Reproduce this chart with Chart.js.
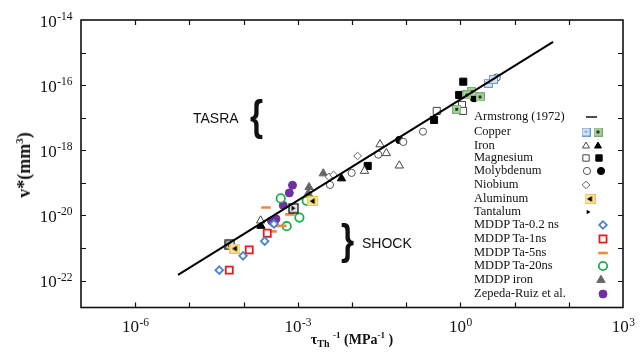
<!DOCTYPE html>
<html><head><meta charset="utf-8">
<script src="https://cdn.jsdelivr.net/npm/chart.js@4.4.1/dist/chart.umd.min.js"></script>
<style>
html,body{margin:0;padding:0;background:#fff;}
#wrap{position:relative;width:644px;height:352px;overflow:hidden;background:#fff}
canvas{position:absolute;left:0;top:0}
.lg{position:absolute;left:474px;font-family:'Liberation Serif','Times New Roman',serif;font-size:12.5px;line-height:14px;color:#111;white-space:nowrap}
.ann{position:absolute;font-family:'Liberation Sans',Arial,sans-serif;color:#111;white-space:nowrap}
.ttl{position:absolute;font-family:'Liberation Serif','Times New Roman',serif;font-weight:bold;color:#111;white-space:nowrap}
</style></head><body>
<div id="wrap">
<canvas id="c" width="644" height="352"></canvas>
<div class="ttl" id="xt" style="left:0;width:704px;text-align:center;top:330px;font-size:14px">τ<sub style="font-size:10px">Th</sub> <sup style="font-size:9px">-1</sup> (MPa<sup style="font-size:9px">-1</sup> )</div>
<div class="ttl" id="yt" style="left:24px;top:165px;font-size:18px;transform:translate(-50%,-50%) rotate(-90deg);">v*(mm<sup style="font-size:11px">3</sup>)</div>
<div class="ann" style="left:193px;top:110px;font-size:14px">TASRA</div>
<div class="ann" style="left:250px;top:92px;font-size:42px;line-height:48px;font-weight:bold;transform:scaleX(0.8);transform-origin:left">{</div>
<div class="ann" style="left:362px;top:235px;font-size:14px">SHOCK</div>
<div class="ann" style="left:341px;top:216px;font-size:42px;line-height:48px;font-weight:bold;transform:scaleX(0.8);transform-origin:left">}</div>
<div id="legend"></div>
</div>
<script>
// ---------- DATA ----------
const xTickVals = [1e-6, 1e-3, 1, 1e3];
const xTickExps = ['-6', '-3', '0', '3'];
const yTickVals = [1e-22, 1e-20, 1e-18, 1e-16, 1e-14];
const yTickExps = ['-22', '-20', '-18', '-16', '-14'];

const armstrongX = [6.17e-6, 51.3];
const armstrongY = [1.51e-22, 2.14e-15];

const copperOpenX = [3.30, 4.08];
const copperOpenY = [1.14e-16, 1.50e-16];
const copperFillX = [0.855, 1.62, 2.30, 1.32];
const copperFillY = [1.82e-17, 6.32e-17, 4.35e-17, 5.0e-17];

const ironOpenX = [2.06e-4, 1.70e-2, 3.29e-2, 4.30e-2, 7.46e-2];
const ironOpenY = [6.97e-21, 2.33e-19, 1.52e-18, 8.15e-19, 3.40e-19];
const ironFillX = [2.09e-4, 6.40e-3];
const ironFillY = [4.80e-21, 1.37e-19];

const magOpenX = [0.366, 1.07, 1.12];
const magOpenY = [1.62e-17, 2.47e-17, 1.62e-17];
const magFillX = [1.13, 0.95, 0.326, 1.95e-2];
const magFillY = [1.28e-16, 5.00e-17, 8.57e-18, 3.32e-19];

const molyOpenX = [3.93e-3, 9.87e-3, 3.05e-2, 8.83e-2, 0.204, 4.68];
const molyOpenY = [8.69e-20, 2.03e-19, 7.38e-19, 1.81e-18, 3.75e-18, 1.72e-16];
const molyFillX = [7.43e-2, 1.78];
const molyFillY = [2.08e-18, 3.96e-17];

const niobX = [3.77e-3, 4.56e-3, 1.27e-2];
const niobY = [1.53e-19, 1.76e-19, 6.73e-19];

const aluX = [1.88e-3, 6.93e-5];
const aluY = [2.75e-20, 9.66e-22];

const tantX = [5.61e-5, 8.34e-4];
const tantY = [1.25e-21, 1.67e-20];

const ta02X = [3.56e-5, 9.75e-5, 2.45e-4, 3.64e-4];
const ta02Y = [2.10e-22, 5.77e-22, 1.63e-21, 5.52e-21];

const ta1X = [5.44e-5, 1.27e-4, 2.73e-4];
const ta1Y = [2.10e-22, 8.81e-22, 2.86e-21];

const ta5X = [2.59e-4, 7.18e-4, 5.05e-4, 3.34e-4];
const ta5Y = [1.75e-20, 1.08e-20, 4.80e-21, 3.25e-21];

const ta20X = [4.84e-4, 1.07e-3, 6.24e-4, 1.46e-3];
const ta20Y = [3.35e-20, 8.63e-21, 4.70e-21, 2.81e-20];

const mddpIronX = [1.61e-3, 1.56e-3, 2.95e-3, 1.50e-3];
const mddpIronY = [7.38e-20, 4.76e-20, 1.95e-19, 2.71e-20];

const zepX = [7.98e-4, 6.97e-4, 5.40e-4, 3.96e-4, 3.27e-4, 3.64e-4];
const zepY = [8.50e-20, 4.93e-20, 2.04e-20, 7.87e-21, 6.83e-21, 5.93e-21];

const legendLabels = ['Armstrong (1972)', 'Copper', 'Iron', 'Magnesium', 'Molybdenum', 'Niobium', 'Aluminum', 'Tantalum',
  'MDDP Ta-0.2 ns', 'MDDP Ta-1ns', 'MDDP Ta-5ns', 'MDDP Ta-20ns', 'MDDP iron', 'Zepeda-Ruiz et al.'];

// ---------- LAYOUT / STYLE ----------
const legendRowY = [117, 132, 146, 158, 171, 185, 199, 212, 225, 239, 253, 266, 280, 294];
const zip = (xs, ys) => xs.map((x, i) => ({x: x, y: ys[i]}));

function mk(w, h, draw) { const c = document.createElement('canvas'); c.width = w; c.height = h; draw(c.getContext('2d')); return c; }
const alMarker = mk(11, 10, g => {
  g.fillStyle = '#fbe3a0'; g.strokeStyle = '#eec35a'; g.lineWidth = 1;
  g.fillRect(0.5, 0.5, 10, 9); g.strokeRect(0.5, 0.5, 10, 9);
  g.fillStyle = '#000'; g.beginPath(); g.moveTo(2.5, 5); g.lineTo(7.5, 2); g.lineTo(7.5, 8); g.closePath(); g.fill();
});
const taBoxMarker = mk(11, 11, g => {
  g.fillStyle = '#e6e6e6'; g.fillRect(1, 1, 9, 9);
  g.strokeStyle = '#111'; g.lineWidth = 1.3; g.strokeRect(1, 1, 9, 9);
  g.fillStyle = '#000'; g.beginPath(); g.moveTo(7.5, 5.5); g.lineTo(3.5, 3); g.lineTo(3.5, 8); g.closePath(); g.fill();
});
const cuOpenMarker = mk(9, 9, g => {
  g.fillStyle = '#d3e0f1'; g.fillRect(0.5, 0.5, 8, 8);
  g.strokeStyle = '#6f9bd1'; g.lineWidth = 1; g.strokeRect(0.5, 0.5, 8, 8);
  g.fillStyle = '#6f9bd1'; g.fillRect(3, 3.5, 3, 1.5);
});
const cuFillMarker = mk(9, 9, g => {
  g.fillStyle = '#a9d59e'; g.fillRect(0.5, 0.5, 8, 8);
  g.strokeStyle = '#7fae74'; g.lineWidth = 1; g.strokeRect(0.5, 0.5, 8, 8);
  g.fillStyle = '#233a22'; g.fillRect(3, 3, 3, 3);
});

const S = {
  cuO: {pointStyle: cuOpenMarker, radius: 4},
  cuF: {pointStyle: cuFillMarker, radius: 4},
  feO: {pointStyle: 'triangle', radius: 4.8, bg: '#fff', bc: '#444', bw: 1},
  feF: {pointStyle: 'triangle', radius: 4.8, bg: '#000', bc: '#000', bw: 1},
  mgO: {pointStyle: 'rect', radius: 5, bg: '#fff', bc: '#444', bw: 1},
  mgF: {pointStyle: 'rect', radius: 5, bg: '#000', bc: '#000', bw: 1},
  moO: {pointStyle: 'circle', radius: 3.6, bg: '#fff', bc: '#555', bw: 1},
  moF: {pointStyle: 'circle', radius: 3.6, bg: '#000', bc: '#000', bw: 1},
  nb: {pointStyle: 'rectRot', radius: 3.8, bg: '#fff', bc: '#666', bw: 1},
  al: {pointStyle: alMarker, radius: 5},
  ta: {pointStyle: taBoxMarker, radius: 5},
  ta02: {pointStyle: 'rectRot', radius: 3.8, bg: '#fff', bc: '#4a86c8', bw: 1.8},
  ta1: {pointStyle: 'rect', radius: 5, bg: '#fff', bc: '#e11d1d', bw: 1.8},
  ta5: {pointStyle: 'line', radius: 4.8, bg: '#ef8a3c', bc: '#ef8a3c', bw: 2.6},
  ta20: {pointStyle: 'circle', radius: 4.2, bg: '#fff', bc: '#1daf4c', bw: 1.8},
  mfe: {pointStyle: 'triangle', radius: 4.8, bg: '#666', bc: '#666', bw: 1},
  zep: {pointStyle: 'circle', radius: 4, bg: '#7030a0', bc: '#7030a0', bw: 1}
};
function ds(label, xs, ys, s) {
  return {label: label, data: zip(xs, ys), showLine: false, pointStyle: s.pointStyle, pointRadius: s.radius,
    pointHoverRadius: s.radius, pointBackgroundColor: s.bg || '#000', pointBorderColor: s.bc || '#000', pointBorderWidth: s.bw || 0};
}

const datasets = [
  {label: 'Armstrong (1972)', data: zip(armstrongX, armstrongY), showLine: true, borderColor: '#000', borderWidth: 2, pointRadius: 0, fill: false},
  ds('Copper', copperOpenX, copperOpenY, S.cuO),
  ds('Copper', copperFillX, copperFillY, S.cuF),
  ds('Iron', ironOpenX, ironOpenY, S.feO),
  ds('Iron', ironFillX, ironFillY, S.feF),
  ds('Magnesium', magOpenX, magOpenY, S.mgO),
  ds('Magnesium', magFillX, magFillY, S.mgF),
  ds('Molybdenum', molyOpenX, molyOpenY, S.moO),
  ds('Molybdenum', molyFillX, molyFillY, S.moF),
  ds('Niobium', niobX, niobY, S.nb),
  ds('Aluminum', aluX, aluY, S.al),
  ds('Tantalum', tantX, tantY, S.ta),
  ds('MDDP Ta-0.2 ns', ta02X, ta02Y, S.ta02),
  ds('MDDP Ta-1ns', ta1X, ta1Y, S.ta1),
  ds('MDDP Ta-5ns', ta5X, ta5Y, S.ta5),
  ds('MDDP Ta-20ns', ta20X, ta20Y, S.ta20),
  ds('MDDP iron', mddpIronX, mddpIronY, S.mfe),
  ds('Zepeda-Ruiz et al.', zepX, zepY, S.zep)
];

// legend html text
const lgDiv = document.getElementById('legend');
legendLabels.forEach((t, i) => {
  const d = document.createElement('div'); d.className = 'lg'; d.textContent = t;
  d.style.top = (legendRowY[i] - 8) + 'px'; lgDiv.appendChild(d);
});

// legend symbols: [row, x, style]
const legendSyms = [
  [1, 586, S.cuO], [1, 598, S.cuF],
  [2, 586, Object.assign({}, S.feO, {radius: 4})], [2, 598, Object.assign({}, S.feF, {radius: 4})],
  [3, 586, Object.assign({}, S.mgO, {radius: 4.5})], [3, 599, Object.assign({}, S.mgF, {radius: 4.5})],
  [4, 587, S.moO], [4, 601, S.moF],
  [5, 586, S.nb],
  [6, 590, S.al],
  [7, 588, {pointStyle: 'triangle', radius: 2.6, rotation: 90, bg: '#000', bc: '#000', bw: 0}],
  [8, 603, S.ta02], [9, 603, S.ta1], [10, 603, S.ta5], [11, 603, S.ta20], [12, 601, S.mfe], [13, 603, S.zep]
];

const BASE_FONT = "17px 'Liberation Serif', 'Times New Roman', serif";
const EXP_FONT = "11.5px 'Liberation Serif', 'Times New Roman', serif";
function drawPow(ctx, exp, xRight, xCenter, baseY) {
  ctx.font = BASE_FONT; const w1 = ctx.measureText('10').width;
  ctx.font = EXP_FONT; const w2 = ctx.measureText(exp).width;
  const x0 = xRight !== null ? xRight - w1 - w2 : xCenter - (w1 + w2) / 2;
  ctx.font = BASE_FONT; ctx.fillText('10', x0, baseY);
  ctx.font = EXP_FONT; ctx.fillText(exp, x0 + w1 + 0.5, baseY - 6.5);
}

const framePlugin = {
  id: 'frame',
  afterDatasetsDraw(chart) {
    const ctx = chart.ctx, a = chart.chartArea, xs = chart.scales.x, ys = chart.scales.y;
    ctx.save();
    ctx.strokeStyle = '#111'; ctx.lineWidth = 1.2;
    ctx.beginPath();
    for (let e = -6; e <= 2; e++) {
      const px = Math.round(xs.getPixelForValue(Math.pow(10, e))) + 0.5;
      ctx.moveTo(px, a.bottom); ctx.lineTo(px, a.bottom - 5);
      ctx.moveTo(px, a.top); ctx.lineTo(px, a.top + 5);
    }
    for (let e = -22; e <= -15; e++) {
      const py = Math.round(ys.getPixelForValue(Math.pow(10, e))) + 0.5;
      ctx.moveTo(a.left, py); ctx.lineTo(a.left + 5, py);
      ctx.moveTo(a.right, py); ctx.lineTo(a.right - 5, py);
    }
    ctx.stroke();
    ctx.lineWidth = 1.6;
    ctx.strokeRect(a.left, a.top, a.right - a.left, a.bottom - a.top);
    // tick labels (10 with superscript exponent), positioned by the scales
    ctx.fillStyle = '#111'; ctx.textBaseline = 'alphabetic'; ctx.textAlign = 'left';
    yTickVals.forEach((v, i) => drawPow(ctx, yTickExps[i], a.left - 9, null, ys.getPixelForValue(v) + 6.5));
    xTickVals.forEach((v, i) => drawPow(ctx, xTickExps[i], null, xs.getPixelForValue(v), a.bottom + 24.5));
    // legend symbols
    ctx.beginPath(); ctx.lineWidth = 1.5; ctx.strokeStyle = '#111'; ctx.moveTo(586, legendRowY[0]); ctx.lineTo(597, legendRowY[0]); ctx.stroke();
    legendSyms.forEach(([r, x, s]) => {
      ctx.fillStyle = s.bg || '#000'; ctx.strokeStyle = s.bc || '#000'; ctx.lineWidth = s.bw || 0;
      Chart.helpers.drawPoint(ctx, {pointStyle: s.pointStyle, radius: s.radius, rotation: s.rotation || 0, borderWidth: s.bw || 0}, x, legendRowY[r]);
    });
    ctx.restore();
  }
};

new Chart(document.getElementById('c'), {
  type: 'scatter',
  data: {datasets: datasets},
  options: {
    responsive: false, animation: false, devicePixelRatio: 1,
    layout: {padding: {left: 0, top: 20, right: 21, bottom: 0}},
    plugins: {legend: {display: false}, tooltip: {enabled: false}},
    scales: {
      x: {
        type: 'logarithmic', min: 1e-7, max: 1e3,
        afterBuildTicks: s => { s.ticks = xTickVals.map(v => ({value: v})); },
        afterFit: s => { s.height = 44.5; },
        grid: {display: false, drawTicks: false}, border: {display: false},
        ticks: {display: false, autoSkip: false, callback: (v, i) => '10^' + xTickExps[i]}
      },
      y: {
        type: 'logarithmic', min: 1.5e-23, max: 1e-14,
        afterBuildTicks: s => { s.ticks = yTickVals.map(v => ({value: v})); },
        afterFit: s => { s.width = 81; },
        grid: {display: false, drawTicks: false}, border: {display: false},
        ticks: {display: false, autoSkip: false, callback: (v, i) => '10^' + yTickExps[i]}
      }
    }
  },
  plugins: [framePlugin]
});
</script>
</body></html>
